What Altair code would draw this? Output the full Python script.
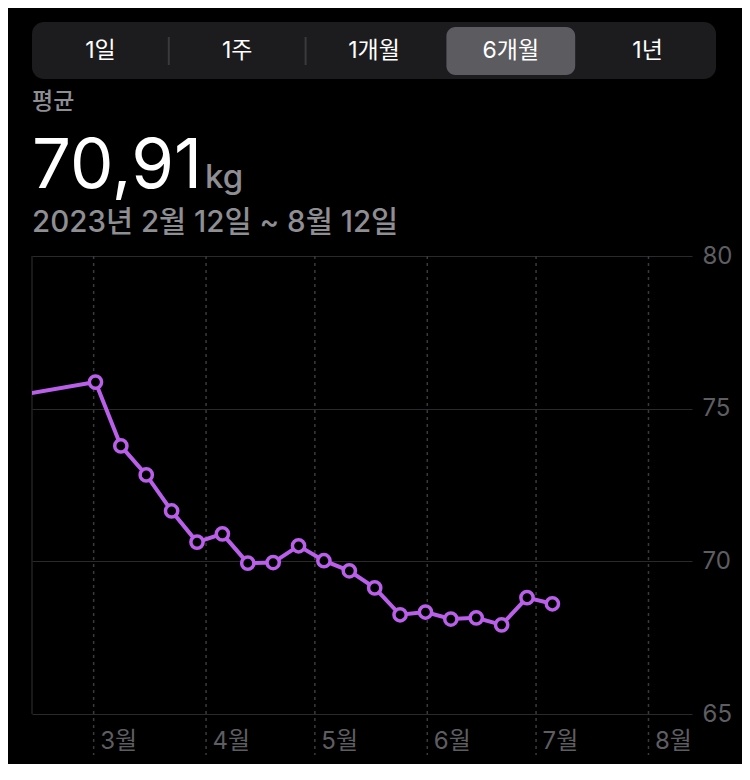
import altair as alt
import pandas as pd

# ---------------- data ----------------
WEEK_DATES = [
    "2023-02-01T12:00:00Z",
    "2023-03-01T12:00:00Z", "2023-03-08T12:00:00Z", "2023-03-15T12:00:00Z",
    "2023-03-22T12:00:00Z", "2023-03-29T12:00:00Z", "2023-04-05T12:00:00Z",
    "2023-04-12T12:00:00Z", "2023-04-19T12:00:00Z", "2023-04-26T12:00:00Z",
    "2023-05-03T12:00:00Z", "2023-05-10T12:00:00Z", "2023-05-17T12:00:00Z",
    "2023-05-24T12:00:00Z", "2023-05-31T12:00:00Z", "2023-06-07T12:00:00Z",
    "2023-06-14T12:00:00Z", "2023-06-21T12:00:00Z", "2023-06-28T12:00:00Z",
    "2023-07-05T12:00:00Z",
]
WEIGHTS = [
    75.30,
    75.87, 73.78, 72.83, 71.65, 70.63, 70.90,
    69.94, 69.96, 70.51, 70.02, 69.69, 69.13,
    68.25, 68.34, 68.11, 68.15, 67.92, 68.81,
    68.61,
]
MONTH_STARTS = ["2023-03-01", "2023-04-01", "2023-05-01",
                "2023-06-01", "2023-07-01", "2023-08-01"]
Y_TICKS = [65, 70, 75, 80]
TABS = ["1일", "1주", "1개월", "6개월", "1년"]
SELECTED_TAB = "6개월"
AVG_LABEL = "평균"
AVG_VALUE = "70,91"
AVG_UNIT = "kg"
RANGE_LABEL = "2023년 2월 12일 ~ 8월 12일"

FONT = "Inter, 'Noto Sans CJK KR', sans-serif"
PURPLE = "#BA5FEA"
GRAY = "#8e8e93"
AXIS_GRAY = "#5e5e62"
GRID = "#2a2a2c"

W, H = 660, 458

df = pd.DataFrame({"date": WEEK_DATES, "weight": WEIGHTS})
months = pd.DataFrame({"date": MONTH_STARTS})


def dt(s):
    y, m, d = (int(p) for p in s.split("-"))
    return alt.DateTime(year=y, month=m, date=d, utc=True)


x_scale = alt.Scale(type="utc", domain=[dt("2023-02-12"), dt("2023-08-13")])
x_axis = alt.Axis(
    values=[dt(s) for s in MONTH_STARTS], format="%-m월", grid=False,
    domain=False, ticks=False, labelAlign="left", labelOffset=6,
    labelPadding=27, labelBaseline="middle", labelFontSize=24,
    labelColor=AXIS_GRAY, labelFont=FONT, labelFlush=False,
    labelOverlap=False, title=None,
)
y_scale = alt.Scale(domain=[65, 80], nice=False, zero=False)
y_axis = alt.Axis(
    orient="right", values=Y_TICKS, grid=True, gridColor=GRID, gridWidth=1.2,
    domain=False, ticks=False, labelPadding=10, labelFontSize=24,
    labelColor=AXIS_GRAY, labelFont=FONT, title=None,
)

one = pd.DataFrame({"k": [0]})

# ---------------- header UI ----------------
layers = []
layers.append(alt.Chart(one).mark_rect(color="#1c1c1e", cornerRadius=12).encode(
    x=alt.value(0), x2=alt.value(684), y=alt.value(-234), y2=alt.value(-177)))
tab_w = 684 / len(TABS)
sel = TABS.index(SELECTED_TAB)
layers.append(alt.Chart(one).mark_rect(color="#5b5b60", cornerRadius=9).encode(
    x=alt.value(sel * tab_w + 4), x2=alt.value((sel + 1) * tab_w - 4),
    y=alt.value(-229), y2=alt.value(-181)))
for i in range(1, len(TABS)):
    if i in (sel, sel + 1):
        continue
    layers.append(alt.Chart(one).mark_rule(color="#3a3a3c", strokeWidth=2).encode(
        x=alt.value(i * tab_w), y=alt.value(-219), y2=alt.value(-191)))
for i, t in enumerate(TABS):
    layers.append(alt.Chart(pd.DataFrame({"t": [t]})).mark_text(
        font=FONT, fontSize=23, color="white", align="center", baseline="middle",
        fontWeight=400).encode(
        text="t:N", x=alt.value((i + 0.5) * tab_w), y=alt.value(-205)))

layers.append(alt.Chart(pd.DataFrame({"t": [AVG_LABEL]})).mark_text(
    font=FONT, fontSize=23, color=GRAY, align="left", baseline="middle",
    fontWeight=500).encode(text="t:N", x=alt.value(0), y=alt.value(-154)))
layers.append(alt.Chart(pd.DataFrame({"t": [AVG_VALUE]})).mark_text(
    font=FONT, fontSize=69, color="white", align="left", baseline="alphabetic",
    fontWeight=400).encode(text="t:N", x=alt.value(0), y=alt.value(-68)))
layers.append(alt.Chart(pd.DataFrame({"t": [AVG_UNIT]})).mark_text(
    font=FONT, fontSize=33, color=GRAY, align="left", baseline="alphabetic",
    fontWeight=500).encode(text="t:N", x=alt.value(173), y=alt.value(-68)))
layers.append(alt.Chart(pd.DataFrame({"t": [RANGE_LABEL]})).mark_text(
    font=FONT, fontSize=29.5, color=GRAY, align="left", baseline="alphabetic",
    fontWeight=500).encode(text="t:N", x=alt.value(0), y=alt.value(-24)))

# ---------------- chart ----------------
base = alt.Chart(df).encode(
    x=alt.X("date:T", scale=x_scale, axis=x_axis),
    y=alt.Y("weight:Q", scale=y_scale, axis=y_axis),
)
grid_layer = alt.Chart(months).mark_rule(
    color="#3a3a3c", strokeDash=[3, 4], strokeWidth=1.5).encode(
    x=alt.X("date:T", scale=x_scale, axis=x_axis),
    y=alt.value(0), y2=alt.value(499))
left_border = alt.Chart(one).mark_rule(color=GRID, strokeWidth=1.2).encode(
    x=alt.value(0), y=alt.value(0), y2=alt.value(H))
line = base.mark_line(color=PURPLE, strokeWidth=4, clip=True)
points = base.mark_point(
    shape="circle", filled=True, fill="black", stroke=PURPLE, strokeWidth=3.5,
    size=150, opacity=1, clip=True)

chart = alt.layer(
    *layers, grid_layer, left_border, line, points
).properties(
    width=W, height=H,
    autosize=alt.AutoSizeParams(type="none"),
    padding={"left": 24, "top": 248, "right": 50, "bottom": 50},
    background="#000000",
).configure_view(stroke=None)

chart.save("out.html", embed_options={"renderer": "svg", "actions": False})
